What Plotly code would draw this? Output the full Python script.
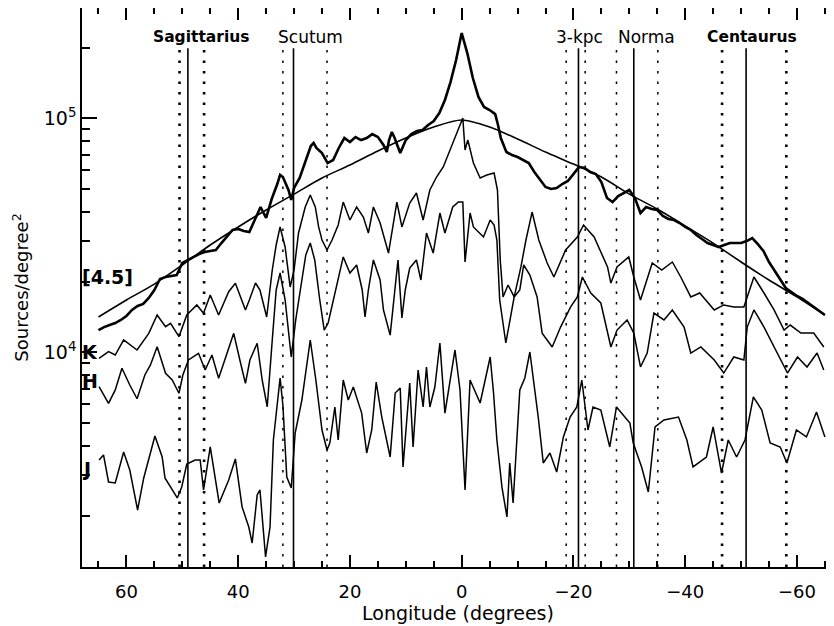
import plotly.graph_objects as go

# ---------------- data ----------------
lon_45 = [65, 64, 63, 62, 61, 60, 59, 58, 57, 56, 55, 54, 53, 52, 51, 50, 49, 48, 47, 46,
          45, 44, 43, 42, 41, 40, 39, 38, 37, 36, 35, 34, 33, 32.5, 32, 31, 30.5, 30, 29, 28,
          27, 26.5, 26, 25, 24, 23, 22, 21, 20, 19, 18, 17, 16, 15, 14, 13.4, 13, 12.5, 12, 11,
          10, 9, 8, 7, 6, 5, 4, 3, 2, 1, 0, -1, -2, -3, -4, -5, -6, -6.5, -7, -8,
          -9, -10, -11, -12, -13, -14, -15, -16, -17, -18, -19, -20, -21, -22, -23, -24, -25, -26, -27, -28,
          -29, -30, -31, -32, -33, -34, -35, -36, -37, -38, -39, -40, -41, -42, -43, -44, -45, -46, -47, -48,
          -49, -50, -51, -52, -53, -54, -55, -56, -57, -58, -59, -60, -61, -62, -63, -64, -65]
val_45 = [12460, 12830, 13090, 13350, 13760, 14310, 15180, 15790, 16100, 17090, 18480, 20590, 21000, 21210, 21420, 24100, 24830, 25580, 26310, 26850,
          27120, 27390, 29330, 31130, 33360, 33690, 33030, 32700, 37160, 41820, 37540, 45240, 52410, 57300, 56160, 49430, 44800, 50420, 55650, 64460,
          76220, 78520, 74750, 71130, 64460, 66410, 74750, 82460, 79230, 83270, 80840, 82460, 85690, 83270, 76960, 71830, 80840, 87430, 82460, 71130,
          80840, 85690, 88310, 89200, 93720, 97480, 105400, 119900, 143000, 177700, 231700, 190200, 148800, 123500, 111900, 108600, 104300, 93720, 82460, 71830,
          69760, 68370, 66410, 64460, 58990, 54560, 50930, 49920, 50420, 52410, 54020, 57820, 61990, 61380, 58990, 57820, 53470, 45690, 43910, 46550,
          47980, 49430, 45690, 39410, 41820, 41000, 40600, 38270, 37160, 36800, 35720, 34360, 33360, 31750, 30520, 29330, 28770, 28210, 28770, 29330,
          29330, 29330, 29920, 30820, 29030, 27120, 24340, 22280, 20390, 18850, 18110, 17420, 16920, 16260, 15640, 15030, 14450]

lon_k = [64.9, 63.2, 62.0, 60.5, 58.1, 56.0, 54.5, 53.0, 52.1, 50.6,
         49.2, 47.4, 46.2, 45.0, 43.5, 41.7, 40.5, 38.7, 38.0, 36.9,
         36.1, 34.9, 33.9, 33.2, 32.5, 31.6, 30.7, 30.0, 29.2, 28.0,
         27.1, 26.2, 25.6, 25.0, 24.1, 23.2, 22.1, 21.2, 20.0, 18.8,
         17.6, 16.7, 15.8, 14.6, 13.1, 11.6, 10.7, 9.3, 8.1, 6.9,
         5.7, 4.5, 3.3, 2.1, 0.9, -0.2, -0.6, -1.1, -2.1, -3.3,
         -4.5, -5.8, -6.4, -6.9, -7.4, -8.3, -9.4, -10.6, -11.5, -12.6,
         -13.8, -15.3, -16.5, -18.6, -20.7, -21.8, -23.7, -26.1, -26.7, -27.8,
         -29.9, -30.8, -32.0, -34.1, -35.8, -37.7, -39.2, -41.0, -42.6, -45.2,
         -46.9, -48.7, -50.5, -52.3, -54.1, -55.9, -57.7, -58.8, -60.7, -63.0,
         -64.8]
val_k = [9437, 10070, 9745, 11300, 10240, 12060, 14450, 12880, 13320, 11670,
         14450, 15950, 14690, 17590, 14450, 18170, 19740, 15180, 16750, 19790,
         18480, 14170, 22500, 28770, 34360, 28210, 19040, 22500, 32380, 41820,
         47060, 41820, 34360, 30220, 27390, 30220, 35030, 43910, 36800, 41820,
         37910, 32380, 41820, 35720, 26590, 43910, 34360, 43460, 47980, 36800,
         49430, 56160, 61990, 73280, 86580, 100400, 73280, 80840, 64460, 55650,
         57300, 58420, 49430, 24830, 17260, 19410, 17260, 23180, 30220, 39790,
         30220, 24100, 21000, 27390, 31130, 35030, 31130, 23180, 19790, 23180,
         25580, 21000, 16750, 24100, 22500, 24340, 21000, 17260, 17940, 15180,
         15950, 15640, 15640, 21000, 17940, 15180, 12460, 13090, 12090, 12090,
         10550]

lon_h = [64.9, 63.2, 62.0, 60.8, 59.4, 58.1, 56.7, 55.7, 54.5, 53.0,
         51.8, 50.6, 49.9, 48.9, 47.1, 45.9, 44.7, 43.5, 42.4, 40.8,
         39.7, 38.7, 37.9, 36.6, 35.7, 34.8, 33.9, 33.2, 32.5, 31.6,
         30.5, 29.7, 28.6, 27.9, 27.1, 26.3, 25.4, 24.6, 23.9, 23.0,
         22.4, 21.2, 20.0, 18.8, 17.8, 17.3, 16.7, 15.8, 14.6, 14.0,
         12.8, 12.1, 11.4, 10.7, 10.1, 9.3, 8.1, 7.3, 6.3, 5.1,
         3.9, 3.0, 1.6, 0.6, -0.2, -0.6, -1.5, -2.1, -3.9, -5.1,
         -5.8, -6.3, -6.8, -7.9, -8.6, -9.4, -10.4, -11.1, -12.2, -13.5,
         -14.4, -16.2, -17.7, -19.5, -20.7, -21.6, -23.1, -24.9, -26.7, -27.8,
         -29.6, -30.8, -32.0, -33.2, -34.4, -36.2, -37.7, -39.8, -41.0, -42.8,
         -45.2, -46.9, -48.7, -50.5, -51.1, -52.3, -54.1, -55.3, -57.1, -58.3,
         -60.1, -61.8, -63.6, -64.8]
val_h = [7133, 6060, 6910, 8552, 7254, 6337, 8006, 8835, 10580, 8141,
         7620, 6689, 8006, 9280, 9912, 8410, 9745, 7748, 9280, 12060,
         9280, 7376, 9280, 10940, 7620, 5858, 11300, 18480, 21840, 16750,
         9559, 13760, 20390, 26080, 29330, 24830, 16750, 12460, 13350, 16750,
         19410, 25580, 21840, 23640, 18480, 14170, 18480, 24830, 20390, 15180,
         11860, 16750, 24830, 14040, 18480, 22950, 24830, 20390, 32380, 26590,
         39410, 32380, 41820, 43910, 43910, 24340, 39410, 34360, 31130, 36800,
         35030, 30220, 16750, 10970, 13350, 17260, 18480, 23640, 21420, 17260,
         12090, 10550, 12830, 15640, 17260, 21000, 17940, 16260, 10550, 12460,
         13760, 12090, 8665, 9939, 14730, 13760, 15180, 12830, 9939, 10550,
         9280, 8163, 9559, 9280, 12830, 15180, 12830, 11300, 9280, 8163,
         9559, 8665, 9939, 8410]

lon_j = [64.9, 64.1, 63.2, 62.0, 60.5, 59.4, 58.0, 56.9, 54.9, 53.6,
         53.1, 50.9, 50.1, 49.2, 47.7, 46.8, 46.2, 45.0, 43.4, 41.7,
         40.5, 39.3, 38.1, 37.5, 36.6, 36.1, 35.1, 34.3, 33.7, 32.5,
         32.0, 31.3, 30.5, 29.8, 28.6, 27.1, 26.1, 25.0, 24.1, 23.6,
         22.7, 22.1, 21.2, 20.3, 19.4, 17.9, 17.0, 16.1, 15.3, 14.3,
         12.8, 11.9, 11.0, 10.5, 9.3, 8.7, 7.8, 6.9, 6.3, 5.7,
         4.8, 3.9, 3.0, 1.2, 0.3, -0.6, -1.5, -3.3, -5.1, -5.7,
         -6.3, -7.2, -8.1, -8.6, -9.2, -10.4, -11.3, -12.2, -13.7, -14.6,
         -15.8, -17.0, -18.2, -19.4, -20.6, -21.5, -22.6, -23.5, -24.9, -26.5,
         -27.7, -30.1, -30.7, -32.2, -33.4, -34.6, -36.2, -38.8, -40.3, -41.4,
         -43.8, -45.0, -46.5, -47.7, -49.2, -50.7, -52.2, -53.7, -55.2, -57.0,
         -58.2, -59.9, -61.7, -63.5, -65.0]
val_j = [3470, 3645, 2794, 2766, 3753, 3144, 2121, 2907, 4393, 3574,
         2907, 2387, 2661, 3333, 3470, 3470, 2583, 3943, 2271, 2850,
         3504, 2185, 1794, 1533, 2459, 2583, 1336, 1794, 4224, 7772,
         5960, 2935, 2635, 4523, 6260, 11300, 7620, 4660, 3828, 4100,
         5844, 4224, 7620, 6260, 7113, 5503, 3715, 4660, 7471, 5293,
         3573, 6707, 7043, 3239, 7396, 3943, 8410, 5844, 8665, 5844,
         7113, 10970, 5503, 10240, 6910, 2583, 7620, 6076, 9559, 6707,
         4224, 2661, 1980, 3368, 2271, 6910, 7772, 10040, 5293, 3368,
         3715, 3082, 4352, 5293, 5844, 7620, 4660, 5844, 5670, 3943,
         5844, 4989, 4100, 3239, 2532, 4800, 5140, 5293, 4224, 3239,
         3573, 4800, 3052, 4224, 3573, 4224, 6450, 5670, 4100, 3943,
         3368, 4660, 4352, 5559, 4352]

lon_model = [65, 60, 55, 50, 45, 40, 35, 30, 25, 20, 15, 10, 5, 0,
             -5, -10, -15, -20, -25, -30, -35, -40, -45, -50, -55, -60, -65]
val_model = [14170, 16750, 19590, 23640, 28770, 34360, 40600, 47480, 55650, 63220, 72550, 82460, 91880, 98450,
             91880, 81640, 71830, 63790, 56160, 47480, 41000, 34700, 29330, 24340, 20390, 17260, 14450]

arm_names = ["Sagittarius", "Scutum", "3-kpc", "Norma", "Centaurus"]
arm_label_lon = [46.6, 27.1, -21.0, -33.1, -51.9]
arm_label_bold = [True, False, False, False, True]
arm_solid = [49.0, 30.1, -20.9, -30.8, -50.9]
arm_dotted_thin = [32.0, 24.1, -18.7, -22.1, -27.7, -35.1]
arm_dotted_bold = [50.5, 46.1, -46.6, -58.1]

band_names = ["[4.5]", "K", "H", "J"]

x_range = [67.95, -66.63]
y_range_log = [3.0829, 5.4718]
y_major = [1e4, 1e5]
y_major_text = ["10<sup>4</sup>", "10<sup>5</sup>"]
y_minor = [2000, 3000, 4000, 5000, 6000, 7000, 8000, 9000,
           20000, 30000, 40000, 50000, 60000, 70000, 80000, 90000, 200000]

FONT = "DejaVu Sans"

fig = go.Figure()

line_thin = dict(color="black", width=1.5)
for lx, ly in [(lon_j, val_j), (lon_h, val_h), (lon_k, val_k)]:
    fig.add_trace(go.Scatter(x=lx, y=ly, mode="lines", line=line_thin,
                             showlegend=False, hoverinfo="skip"))
fig.add_trace(go.Scatter(x=lon_45, y=val_45, mode="lines",
                         line=dict(color="black", width=2.6),
                         showlegend=False, hoverinfo="skip"))
fig.add_trace(go.Scatter(x=lon_model, y=val_model, mode="lines", yaxis="y2",
                         line=dict(color="black", width=1.6, shape="spline", smoothing=0.8),
                         showlegend=False, hoverinfo="skip"))

LINE_TOP = 0.928
for lx in arm_solid:
    fig.add_shape(type="line", xref="x", yref="paper", x0=lx, x1=lx, y0=0, y1=LINE_TOP,
                  line=dict(color="black", width=1.6))
for lx in arm_dotted_thin:
    fig.add_shape(type="line", xref="x", yref="paper", x0=lx, x1=lx, y0=0, y1=LINE_TOP,
                  line=dict(color="black", width=1.5, dash="2.5px,8px"))
for lx in arm_dotted_bold:
    fig.add_shape(type="line", xref="x", yref="paper", x0=lx, x1=lx, y0=0, y1=LINE_TOP,
                  line=dict(color="black", width=2.6, dash="2.5px,8px"))

for name, lx, bold in zip(arm_names, arm_label_lon, arm_label_bold):
    fig.add_annotation(x=lx, y=0.948, xref="x", yref="paper", text=f"<b>{name}</b>" if bold else name,
                       showarrow=False, xanchor="center", yanchor="middle",
                       font=dict(family=FONT, size=15.5 if bold else 17, color="black"))

band_label_y = [0.519, 0.385, 0.333, 0.175]
for name, yy in zip(band_names, band_label_y):
    fig.add_annotation(x=0, y=yy, xref="paper", yref="paper", text=f"<b>{name}</b>",
                       showarrow=False, xanchor="left", yanchor="middle", xshift=-2,
                       font=dict(family=FONT, size=19, color="black"))

# the page body has an 8px margin, so the figure is offset by 8px; margins compensate
fig.update_layout(
    width=834, height=626,
    margin=dict(l=74, r=8, t=0, b=67, pad=0),
    paper_bgcolor="white", plot_bgcolor="white",
    font=dict(family=FONT, size=18, color="black"),
    showlegend=False,
    xaxis=dict(
        range=x_range, showgrid=False, zeroline=False,
        showline=True, linecolor="black", linewidth=1.5, mirror="ticks",
        ticks="inside", ticklen=12, tickwidth=1.5, tickcolor="black",
        tick0=0, dtick=20, ticklabelstandoff=8,
        minor=dict(ticks="inside", ticklen=6, tickwidth=1.5, tickcolor="black", tick0=0, dtick=5, showgrid=False),
        tickfont=dict(family=FONT, size=18),
        title=dict(text="Longitude (degrees)", font=dict(family=FONT, size=19), standoff=4),
        automargin=False,
    ),
    yaxis=dict(
        type="log", range=y_range_log, showgrid=False, zeroline=False,
        showline=True, linecolor="black", linewidth=1.5, mirror=False,
        ticks="inside", ticklen=15, tickwidth=1.5, tickcolor="black",
        tickmode="array", tickvals=y_major, ticktext=y_major_text,
        minor=dict(ticks="inside", ticklen=8, tickwidth=1.5, tickcolor="black",
                   tickmode="array", tickvals=y_minor, showgrid=False),
        tickfont=dict(family=FONT, size=19),
        title=dict(text="Sources/degree<sup>2</sup>", font=dict(family=FONT, size=18), standoff=10),
        automargin=False,
    ),
    yaxis2=dict(
        type="log", range=y_range_log, overlaying="y", side="right",
        showgrid=False, zeroline=False, showline=False,
        ticks="inside", ticklen=8, tickwidth=1.5, tickcolor="black",
        tickmode="array", tickvals=y_major, showticklabels=False,
        minor=dict(ticks="inside", ticklen=3, tickwidth=1.5, tickcolor="black",
                   tickmode="array", tickvals=y_minor, showgrid=False),
        automargin=False,
    ),
)

fig.write_html("out.html")
